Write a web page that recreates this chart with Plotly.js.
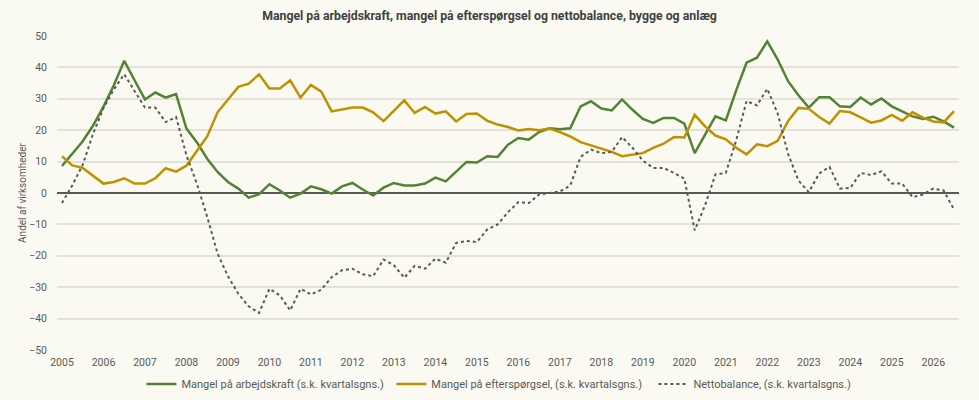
<!DOCTYPE html>
<html>
<head>
<meta charset="utf-8">
<script src="https://cdn.plot.ly/plotly-3.0.1.min.js"></script>
<style>
html,body{margin:0;padding:0;background:#fafaf2;}
#chart{width:979px;height:400px;}
</style>
</head>
<body>
<div id="chart"></div>
<script>
// Quarterly data, 2005 Q1 .. 2026 Q3
const startYear = 2005;
const seriesNames = [
  "Mangel på arbejdskraft (s.k. kvartalsgns.)",
  "Mangel på efterspørgsel, (s.k. kvartalsgns.)",
  "Nettobalance, (s.k. kvartalsgns.)"
];
const arbejdskraft = [8.6,12.5,16.5,21.5,27.5,34.3,42.1,35.9,29.8,32.0,30.4,31.5,20.5,16.2,10.9,6.7,3.5,1.4,-1.5,-0.4,2.8,0.8,-1.5,-0.2,2.1,1.2,-0.2,2.1,3.2,1.1,-0.8,1.7,3.2,2.4,2.4,3.0,4.9,3.7,6.7,9.9,9.7,11.7,11.5,15.4,17.5,17.0,19.4,20.6,20.3,20.6,27.6,29.2,26.9,26.3,29.8,26.5,23.6,22.3,23.9,23.9,22.1,12.7,18.6,24.4,23.1,32.7,41.5,43.1,48.3,42.5,35.6,31.1,27.2,30.5,30.5,27.6,27.4,30.4,28.2,30.1,27.6,26.1,24.4,23.6,24.3,22.8,20.8];
const efterspoergsel = [11.7,8.8,8.0,5.4,3.0,3.5,4.7,3.0,3.0,4.7,7.9,6.8,8.7,13.4,18.0,25.7,29.8,33.8,34.8,37.8,33.3,33.3,35.9,30.4,34.4,32.3,26.0,26.6,27.2,27.2,25.7,22.9,26.1,29.5,25.5,27.4,25.3,26.0,22.8,25.2,25.3,23.0,21.8,21.0,19.9,20.4,20.0,20.5,19.4,18.0,16.2,15.2,14.1,13.1,11.7,12.3,12.7,14.4,15.7,17.8,17.7,24.9,21.2,18.3,17.1,14.4,12.3,15.5,14.9,16.6,22.9,27.1,26.8,24.2,22.1,26.1,25.7,24.1,22.4,23.1,24.9,23.0,25.7,24.0,22.8,22.5,26.1];
const nettobalance = [-3.2,2.5,9.0,18.9,27.0,33.0,37.8,32.7,27.2,27.2,22.6,24.2,12.0,3.0,-7.6,-19.3,-26.5,-32.1,-36.1,-38.2,-30.5,-32.6,-37.4,-30.5,-32.3,-30.8,-26.8,-24.6,-24.1,-25.9,-26.5,-21.2,-23.0,-27.0,-23.2,-24.1,-20.9,-22.2,-15.9,-15.3,-15.6,-11.6,-10.0,-6.1,-2.9,-3.2,-0.5,0.0,0.5,2.4,11.5,13.8,12.7,13.1,17.8,14.4,10.3,8.0,8.0,6.4,4.6,-11.9,-3.9,5.9,6.4,16.8,29.3,27.9,33.2,25.3,12.5,4.0,0.3,6.2,8.3,1.4,1.6,6.4,5.7,6.9,3.0,3.0,-1.3,-0.5,1.4,0.8,-5.3];
const yearTicks = [2005,2006,2007,2008,2009,2010,2011,2012,2013,2014,2015,2016,2017,2018,2019,2020,2021,2022,2023,2024,2025,2026];

// quarter positions (decimal years) for each observation
const quarters = arbejdskraft.map((_, i) => startYear + i / 4);

const FONT = 'Roboto, "Noto Sans", sans-serif';
const traces = [
  {x: quarters, y: arbejdskraft, name: seriesNames[0], type: 'scatter', mode: 'lines',
   legend: 'legend', line: {color: '#548235', width: 2.5}},
  {x: quarters, y: efterspoergsel, name: seriesNames[1], type: 'scatter', mode: 'lines',
   legend: 'legend2', line: {color: '#bf9000', width: 2.5}},
  {x: quarters, y: nettobalance, name: seriesNames[2], type: 'scatter', mode: 'lines',
   legend: 'legend3', line: {color: '#595959', width: 2, dash: 'dot'}}
];

const legendBase = {orientation: 'h', xanchor: 'left', y: -0.108, yanchor: 'middle',
                    font: {size: 11, color: '#595959'}, itemwidth: 30, bgcolor: 'rgba(0,0,0,0)'};

const layout = {
  width: 979, height: 400,
  paper_bgcolor: '#fafaf2', plot_bgcolor: '#fafaf2',
  margin: {l: 57, r: 20, t: 36, b: 50, autoexpand: false},
  font: {family: FONT, color: '#595959', size: 10},
  title: {text: 'Mangel på arbejdskraft, mangel på efterspørgsel og nettobalance, bygge og anlæg',
          font: {family: FONT, size: 12.3, color: '#404040', weight: 'bold'},
          x: 0.5, xanchor: 'center', y: 0.962, yanchor: 'middle', yref: 'container'},
  xaxis: {range: [2004.88, 2026.62], tickvals: yearTicks, ticktext: yearTicks.map(String),
          showgrid: false, zeroline: false, showline: false, ticks: '',
          ticklabelstandoff: 4,
          tickfont: {size: 10.5, color: '#595959'}},
  yaxis: {range: [-50, 50], dtick: 10, gridcolor: '#e3e1d9', gridwidth: 1.5,
          zeroline: true, zerolinecolor: '#595959', zerolinewidth: 2,
          showline: false, ticks: '', ticklabelstandoff: 9,
          tickfont: {size: 10.5, color: '#595959'},
          title: {text: 'Andel af virksomheder', font: {size: 10, color: '#595959'}, standoff: 0}},
  showlegend: true,
  legend: Object.assign({}, legendBase, {x: 0.0936}),
  legend2: Object.assign({}, legendBase, {x: 0.3707}),
  legend3: Object.assign({}, legendBase, {x: 0.6612})
};

Plotly.newPlot('chart', traces, layout, {displayModeBar: false, responsive: false});
</script>
</body>
</html>
